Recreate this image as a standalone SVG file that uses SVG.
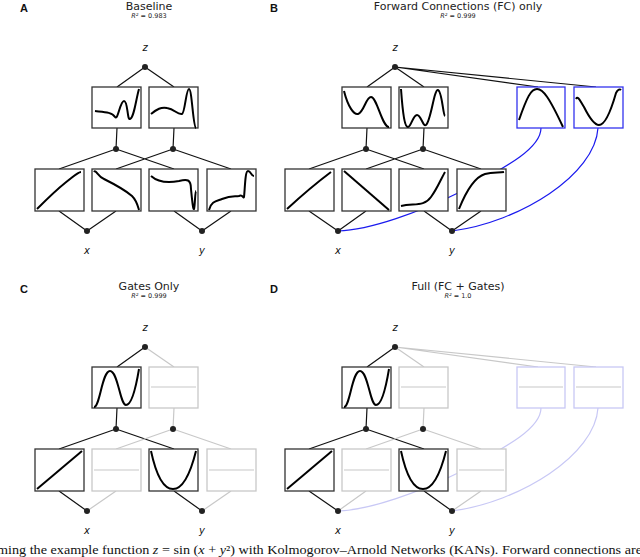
<svg xmlns="http://www.w3.org/2000/svg" width="640" height="557" viewBox="0 0 640 557">
<style>
.t{font-family:"DejaVu Sans",sans-serif;fill:#222;text-anchor:middle}
.lt{font-family:"Liberation Sans",Arial,sans-serif;font-weight:bold;font-size:11px;fill:#111}
.v{font-family:"DejaVu Sans",sans-serif;font-style:italic;font-size:10px;fill:#111;text-anchor:middle}
.bx{fill:#fff;stroke:#333;stroke-width:1.3}
.gbx{fill:#fff;stroke:#c8c8c8;stroke-width:1.3}
.fbx{fill:#fff;stroke:#3333ee;stroke-width:1.3}
.lbx{fill:#fff;stroke:#c8c8f5;stroke-width:1.3}
.cv{fill:none;stroke:#000;stroke-width:2}
.fl{stroke:#c8c8c8;stroke-width:1.2}
.k{stroke:#111;stroke-width:1.2;fill:none}
.g{stroke:#c8c8c8;stroke-width:1.2;fill:none}
.b{stroke:#1a1aee;stroke-width:1.2;fill:none}
.lb{stroke:#c8c8f5;stroke-width:1.2;fill:none}
.nd{fill:#222}
.gn{fill:#999}
</style>
<text class="lt" x="20" y="12">A</text>
<text class="lt" x="270" y="12">B</text>
<text class="lt" x="20" y="293">C</text>
<text class="lt" x="270" y="293">D</text>
<text class="t" x="149" y="10" font-size="11">Baseline</text>
<text class="t" x="149" y="18" font-size="6.5"><tspan font-style="italic">R²</tspan>  =  0.983</text>
<text class="t" x="458" y="10" font-size="11">Forward Connections (FC) only</text>
<text class="t" x="458" y="18" font-size="6.5"><tspan font-style="italic">R²</tspan> = 0.999</text>
<text class="t" x="149" y="290" font-size="11">Gates Only</text>
<text class="t" x="149" y="298" font-size="6.5"><tspan font-style="italic">R²</tspan> = 0.999</text>
<text class="t" x="458" y="290" font-size="11">Full (FC + Gates)</text>
<text class="t" x="458" y="298" font-size="6.5"><tspan font-style="italic">R²</tspan> = 1.0</text>
<g id="labels">
<text class="v" x="145" y="51">z</text><text class="v" x="87" y="254">x</text><text class="v" x="202" y="254">y</text>
<text class="v" x="395" y="51">z</text><text class="v" x="338" y="254">x</text><text class="v" x="452" y="254">y</text>
<text class="v" x="145" y="331">z</text><text class="v" x="87" y="534">x</text><text class="v" x="202" y="534">y</text>
<text class="v" x="395" y="331">z</text><text class="v" x="338" y="534">x</text><text class="v" x="452" y="534">y</text>
</g>
<g id="connectors">
<!-- A -->
<path class="k" d="M145,67 L117,87 M145,67 L174,87 M117,128 L116,149 M174,128 L173,149 M116,149 L59,169 M116,149 L174,169 M173,149 L116,169 M173,149 L231,169 M59,211 L87,231 M116,211 L87,231 M174,211 L202,231 M231,211 L202,231"/>
<!-- B -->
<path class="k" d="M395,67 L367,87 M395,67 L424,87 M367,128 L366,149 M424,128 L423,149 M366,149 L309,169 M366,149 L424,169 M423,149 L366,169 M423,149 L481,169 M309,211 L338,231 M366,211 L338,231 M424,211 L452,231 M481,211 L452,231 M395,67 L538,87 M395,67 L596,87"/>
<path class="b" d="M541,128 C541,150 500,170 460,192 C420,212 370,230 338,231"/>
<path class="b" d="M598,128 C595,175 520,222 452,231"/>
<!-- C -->
<path class="k" d="M145,347 L117,367 M117,408 L116,429 M116,429 L59,449 M116,429 L174,449 M59,491 L87,511 M174,491 L202,511"/>
<path class="g" d="M145,347 L174,367 M174,408 L173,429 M173,429 L116,449 M173,429 L231,449 M116,491 L87,511 M231,491 L202,511"/>
<!-- D -->
<path class="k" d="M395,347 L367,367 M367,408 L366,429 M366,429 L309,449 M366,429 L424,449 M309,491 L338,511 M424,491 L452,511"/>
<path class="g" d="M395,347 L424,367 M424,408 L423,429 M423,429 L366,449 M423,429 L481,449 M366,491 L338,511 M481,491 L452,511 M395,347 L538,367 M395,347 L596,367"/>
<path class="lb" d="M541,408 C541,430 500,450 460,472 C420,492 370,510 338,511"/>
<path class="lb" d="M598,408 C595,455 520,502 452,511"/>
</g>
<!-- A nodes -->
<g id="A_top1" transform="translate(92,87)"><rect class="bx" width="49" height="41"/><path class="cv" d="M3,24 C12,25 20,25 23,30 C26,34 28,14 32,14 C36,14 35,33 38,32 C42,31 44,12 47,2"/></g>
<g id="A_top2" transform="translate(149,87)"><rect class="bx" width="49" height="41"/><path class="cv" d="M2,27 C8,22 12,20 18,21 C26,22 28,28 33,27 C36,26 37,2 40,2 C43,2 44,40 47,41"/></g>
<g id="A_b1" transform="translate(35,169)"><rect class="bx" width="49" height="42"/><path class="cv" d="M2,40 C10,32 20,22 30,14 C38,8 43,3 46,3"/></g>
<g id="A_b2" transform="translate(92,169)"><rect class="bx" width="49" height="42"/><path class="cv" d="M2,3 C4,0 6,8 12,10 C22,15 32,20 40,27 C45,32 46,38 47,41"/></g>
<g id="A_b3" transform="translate(149,169)"><rect class="bx" width="49" height="42"/><path class="cv" d="M2,7 C10,14 20,14 30,12 C38,10 42,10 42,20 C43,30 44,41 45,40 C46,38 46,22 47,22"/></g>
<g id="A_b4" transform="translate(207,169)"><rect class="bx" width="49" height="42"/><path class="cv" d="M2,41 C4,32 10,32 15,30 C25,26 28,28 32,27 C36,25 36,30 37,28 C38,20 38,2 41,2 C44,2 44,7 47,7"/></g>
<!-- B nodes -->
<g id="B_top1" transform="translate(342,87)"><rect class="bx" width="49" height="41"/><path class="cv" d="M2,4 C6,20 12,28 16,27 C22,25 24,10 29,10 C35,10 40,40 47,40"/></g>
<g id="B_top2" transform="translate(399,87)"><rect class="bx" width="49" height="41"/><path class="cv" d="M2,2 C4,30 6,40 9,40 C12,40 14,28 18,28 C22,28 24,40 27,38 C32,34 35,2 39,3 C43,4 44,28 46,29"/></g>
<g id="B_fc1" transform="translate(517,87)"><rect class="fbx" width="48" height="41"/><path class="cv" d="M2,33 C10,10 14,2 20,2 C26,2 32,10 46,40"/></g>
<g id="B_fc2" transform="translate(574,87)"><rect class="fbx" width="49" height="41"/><path class="cv" d="M2,12 C4,8 6,14 10,20 C15,30 20,38 25,38 C32,38 38,20 42,6 C44,2 46,2 47,3"/></g>
<g id="B_b1" transform="translate(285,169)"><rect class="bx" width="49" height="42"/><path class="cv" d="M2,40 C15,28 30,15 46,3"/></g>
<g id="B_b2" transform="translate(342,169)"><rect class="bx" width="49" height="42"/><path class="cv" d="M2,2 L47,41"/></g>
<g id="B_b3" transform="translate(399,169)"><rect class="bx" width="49" height="42"/><path class="cv" d="M2,37 C15,34 25,38 32,28 C38,20 42,10 46,3"/></g>
<g id="B_b4" transform="translate(457,169)"><rect class="bx" width="49" height="42"/><path class="cv" d="M2,40 C10,20 18,8 28,5 C36,3 42,4 47,3"/></g>
<!-- C nodes -->
<g id="C_top1" transform="translate(92,367)"><rect class="bx" width="49" height="41"/><path class="cv" d="M2,40 C8,40 10,4 18,4 C26,4 28,38 34,38 C40,38 44,20 47,2"/></g>
<g id="C_top2" transform="translate(149,367)"><rect class="gbx" width="49" height="41"/><line class="fl" x1="2" y1="20" x2="47" y2="20"/></g>
<g id="C_b1" transform="translate(35,449)"><rect class="bx" width="49" height="42"/><path class="cv" d="M2,40 L47,2"/></g>
<g id="C_b2" transform="translate(92,449)"><rect class="gbx" width="49" height="42"/><line class="fl" x1="2" y1="21" x2="47" y2="21"/></g>
<g id="C_b3" transform="translate(149,449)"><rect class="bx" width="49" height="42"/><path class="cv" d="M2,2 C8,30 16,40 24,40 C32,40 40,30 47,2"/></g>
<g id="C_b4" transform="translate(207,449)"><rect class="gbx" width="49" height="42"/><line class="fl" x1="2" y1="21" x2="47" y2="21"/></g>
<!-- D nodes -->
<g id="D_top1" transform="translate(342,367)"><rect class="bx" width="49" height="41"/><path class="cv" d="M2,40 C8,40 10,4 18,4 C26,4 28,38 34,38 C40,38 44,20 47,2"/></g>
<g id="D_top2" transform="translate(399,367)"><rect class="gbx" width="49" height="41"/><line class="fl" x1="2" y1="20" x2="47" y2="20"/></g>
<g id="D_fc1" transform="translate(517,367)"><rect class="lbx" width="48" height="41"/><line class="fl" x1="2" y1="20" x2="46" y2="20"/></g>
<g id="D_fc2" transform="translate(574,367)"><rect class="lbx" width="49" height="41"/><line class="fl" x1="2" y1="20" x2="47" y2="20"/></g>
<g id="D_b1" transform="translate(285,449)"><rect class="bx" width="49" height="42"/><path class="cv" d="M2,40 L47,2"/></g>
<g id="D_b2" transform="translate(342,449)"><rect class="gbx" width="49" height="42"/><line class="fl" x1="2" y1="21" x2="47" y2="21"/></g>
<g id="D_b3" transform="translate(399,449)"><rect class="bx" width="49" height="42"/><path class="cv" d="M2,2 C8,30 16,40 24,40 C32,40 40,30 47,2"/></g>
<g id="D_b4" transform="translate(457,449)"><rect class="gbx" width="49" height="42"/><line class="fl" x1="2" y1="21" x2="47" y2="21"/></g>
<g id="dots">
<circle class="nd" cx="145" cy="67" r="3"/><circle class="nd" cx="116" cy="149" r="3"/><circle class="nd" cx="173" cy="149" r="3"/><circle class="nd" cx="87" cy="231" r="3"/><circle class="nd" cx="202" cy="231" r="3"/>
<circle class="nd" cx="395" cy="67" r="3"/><circle class="nd" cx="366" cy="149" r="3"/><circle class="nd" cx="423" cy="149" r="3"/><circle class="nd" cx="338" cy="231" r="3"/><circle class="nd" cx="452" cy="231" r="3"/>
<circle class="nd" cx="145" cy="347" r="3"/><circle class="nd" cx="116" cy="429" r="3"/><circle class="nd" cx="173" cy="429" r="3"/><circle class="nd" cx="87" cy="511" r="3"/><circle class="nd" cx="202" cy="511" r="3"/>
<circle class="nd" cx="395" cy="347" r="3"/><circle class="nd" cx="366" cy="429" r="3"/><circle class="nd" cx="423" cy="429" r="3"/><circle class="nd" cx="338" cy="511" r="3"/><circle class="nd" cx="452" cy="511" r="3"/>
</g>
<text x="-3" y="554" font-family="'Liberation Serif',serif" font-size="12.5" fill="#111" textLength="645" lengthAdjust="spacingAndGlyphs">ming the example function <tspan font-style="italic">z</tspan> = sin (<tspan font-style="italic">x</tspan> + <tspan font-style="italic">y</tspan>²) with Kolmogorov–Arnold Networks (KANs). Forward connections are</text>
</svg>
